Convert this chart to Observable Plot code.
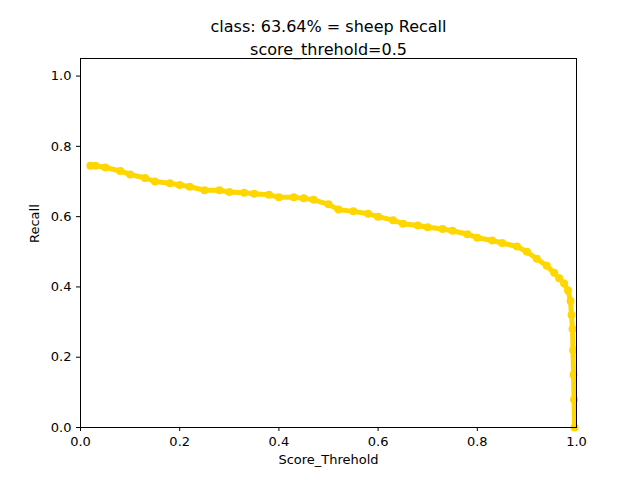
<!DOCTYPE html>
<html><head>
<script src="https://cdn.jsdelivr.net/npm/d3@7"></script>
<script src="https://cdn.jsdelivr.net/npm/@observablehq/plot@0.6"></script>
<style>body{margin:0;background:#fff}svg{font-family:"DejaVu Sans",sans-serif}</style>
</head><body><div id="chart"></div>
<script>
const thresholds = [0.02,0.03,0.05,0.08,0.1,0.13,0.15,0.18,0.2,0.22,0.25,0.28,0.3,0.33,0.35,0.38,0.4,0.43,0.45,0.47,0.5,0.52,0.55,0.58,0.6,0.63,0.65,0.68,0.7,0.73,0.75,0.78,0.8,0.83,0.85,0.88,0.9,0.92,0.94,0.955,0.965,0.975,0.983,0.988,0.99,0.992,0.993,0.994,0.995,0.996];
const recall = [0.745,0.745,0.74,0.73,0.72,0.71,0.70,0.695,0.69,0.685,0.675,0.675,0.67,0.668,0.665,0.662,0.655,0.655,0.652,0.648,0.635,0.62,0.615,0.608,0.60,0.59,0.58,0.575,0.57,0.565,0.56,0.55,0.54,0.532,0.525,0.515,0.50,0.48,0.46,0.44,0.425,0.41,0.39,0.36,0.32,0.28,0.22,0.15,0.08,0.0];
const data = thresholds.map((t, i) => ({t, r: recall[i]}));
const chart = Plot.plot({
  width: 640, height: 480,
  marginLeft: 80, marginRight: 64, marginTop: 58, marginBottom: 53,
  style: {fontSize: "13px", fontFamily: "DejaVu Sans, sans-serif"},
  x: {domain: [0, 1], ticks: [0,0.2,0.4,0.6,0.8,1], tickFormat: ".1f", label: null, tickSize: 4},
  y: {domain: [0, 1.05], ticks: [0,0.2,0.4,0.6,0.8,1], tickFormat: ".1f", label: null, tickSize: 4},
  marks: [
    Plot.line(data, {x: "t", y: "r", stroke: "#ffd700", strokeWidth: 5}),
    Plot.dot(data, {x: "t", y: "r", fill: "#ffd700", r: 4}),
    Plot.frame({stroke: "black"}),
    Plot.text(["class: 63.64% = sheep Recall"], {frameAnchor: "top", dy: -38, fontSize: 16}),
    Plot.text(["score_threhold=0.5"], {frameAnchor: "top", dy: -15, fontSize: 16}),
    Plot.text(["Score_Threhold"], {frameAnchor: "bottom", dy: 36, fontSize: 13}),
    Plot.text(["Recall"], {frameAnchor: "left", dx: -46, rotate: -90, fontSize: 13})
  ]
});
d3.select('#chart').append(() => chart);
</script></body></html>
